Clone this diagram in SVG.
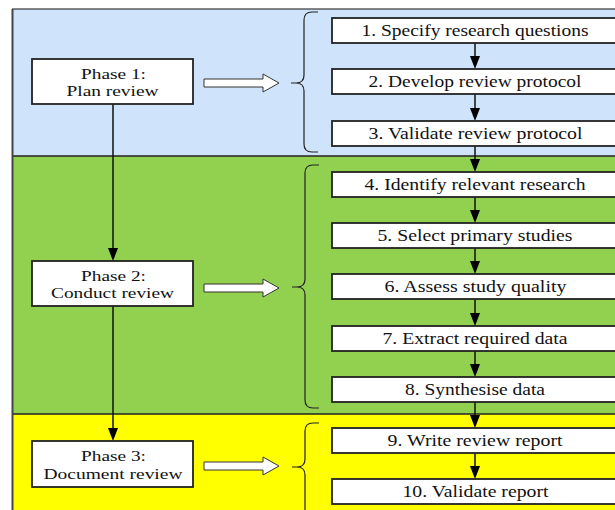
<svg xmlns="http://www.w3.org/2000/svg" width="615" height="510" viewBox="0 0 615 510">
<defs>
<style>
.t{font-family:"Liberation Serif","Times New Roman",serif;font-size:16.5px;fill:#111;text-anchor:middle}
.p{font-family:"Liberation Serif","Times New Roman",serif;font-size:15px;fill:#111;text-anchor:middle}
.box{fill:#fff;stroke:#222;stroke-width:1.8}
.ln{stroke:#111;stroke-width:1.5;fill:none}
.hd{fill:#000}
.brace{fill:none;stroke:#222;stroke-width:1.2}
.blk{fill:#fff;stroke:#333;stroke-width:1}
</style>
</defs>
<rect x="0" y="0" width="615" height="510" fill="#fff"/>
<g id="bands">
<rect x="12" y="9" width="610" height="147" fill="#cfe4fa"/>
<rect x="12" y="156" width="610" height="258" fill="#92d050"/>
<rect x="12" y="414" width="610" height="100" fill="#ffff00"/>
<line x1="12" y1="9" x2="622" y2="9" stroke="#111" stroke-width="1.2"/>
<line x1="12" y1="156" x2="622" y2="156" stroke="#222" stroke-width="1.5"/>
<line x1="12" y1="414" x2="622" y2="414" stroke="#222" stroke-width="1.5"/>
<line x1="12.5" y1="9" x2="12.5" y2="514" stroke="#444" stroke-width="2"/>
</g>
<g id="braces">
<path class="brace" d="M318,12 H312 Q304,12 304,20 V75 Q304,83 296,83 H291 M296,83 Q304,83 304,91 V144 Q304,152 312,152 H318"/>
<path class="brace" d="M319,165 H313 Q305,165 305,173 V279 Q305,287 297,287 H292 M297,287 Q305,287 305,295 V400 Q305,408 313,408 H319"/>
<path class="brace" d="M319,423 H313 Q305,423 305,431 V459 Q305,467 297,467 H292 M297,467 Q305,467 305,475 V520"/>
</g>
<g id="connectors">
<line class="ln" x1="113" y1="104" x2="113" y2="249"/>
<polygon class="hd" points="108,248 118,248 113,261"/>
<line class="ln" x1="113" y1="306" x2="113" y2="429"/>
<polygon class="hd" points="108,428 118,428 113,441"/>
<polygon class="blk" points="204,79 263,79 263,74 279,83 263,92 263,87 204,87"/>
<polygon class="blk" points="204,284 263,284 263,279 279,288 263,297 263,292 204,292"/>
<polygon class="blk" points="204,462 263,462 263,457 279,466 263,475 263,470 204,470"/>
<line class="ln" x1="475" y1="43" x2="475" y2="57"/><polygon class="hd" points="470,56 480,56 475,69"/>
<line class="ln" x1="475" y1="94" x2="475" y2="109"/><polygon class="hd" points="470,108 480,108 475,121"/>
<line class="ln" x1="475" y1="146" x2="475" y2="160"/><polygon class="hd" points="470,159 480,159 475,172"/>
<line class="ln" x1="475" y1="197" x2="475" y2="211"/><polygon class="hd" points="470,210 480,210 475,223"/>
<line class="ln" x1="475" y1="248" x2="475" y2="262"/><polygon class="hd" points="470,261 480,261 475,274"/>
<line class="ln" x1="475" y1="299" x2="475" y2="314"/><polygon class="hd" points="470,313 480,313 475,326"/>
<line class="ln" x1="475" y1="351" x2="475" y2="365"/><polygon class="hd" points="470,364 480,364 475,377"/>
<line class="ln" x1="475" y1="402" x2="475" y2="416"/><polygon class="hd" points="470,415 480,415 475,428"/>
<line class="ln" x1="475" y1="453" x2="475" y2="467"/><polygon class="hd" points="470,466 480,466 475,479"/>
</g>
<g id="phase1"><rect class="box" x="32" y="59" width="161" height="45"/>
<text class="p" x="113.5" y="79" textLength="65" lengthAdjust="spacingAndGlyphs">Phase 1:</text>
<text class="p" x="112.5" y="96" textLength="92" lengthAdjust="spacingAndGlyphs">Plan review</text></g>
<g id="phase2"><rect class="box" x="32" y="261" width="161" height="45"/>
<text class="p" x="113.5" y="281" textLength="65" lengthAdjust="spacingAndGlyphs">Phase 2:</text>
<text class="p" x="112.5" y="298" textLength="123" lengthAdjust="spacingAndGlyphs">Conduct review</text></g>
<g id="phase3"><rect class="box" x="32" y="441" width="161" height="46"/>
<text class="p" x="113.5" y="460.5" textLength="65" lengthAdjust="spacingAndGlyphs">Phase 3:</text>
<text class="p" x="113" y="478.5" textLength="139" lengthAdjust="spacingAndGlyphs">Document review</text></g>
<g id="step1"><rect class="box" x="332" y="18" width="290" height="25"/><text class="t" x="475" y="36" textLength="227" lengthAdjust="spacingAndGlyphs">1. Specify research questions</text></g>
<g id="step2"><rect class="box" x="332" y="69" width="290" height="25"/><text class="t" x="475" y="87" textLength="213" lengthAdjust="spacingAndGlyphs">2. Develop review protocol</text></g>
<g id="step3"><rect class="box" x="332" y="121" width="290" height="25"/><text class="t" x="475.5" y="139" textLength="214" lengthAdjust="spacingAndGlyphs">3. Validate review protocol</text></g>
<g id="step4"><rect class="box" x="332" y="172" width="290" height="25"/><text class="t" x="475" y="190" textLength="221" lengthAdjust="spacingAndGlyphs">4. Identify relevant research</text></g>
<g id="step5"><rect class="box" x="332" y="223" width="290" height="25"/><text class="t" x="475" y="241" textLength="195" lengthAdjust="spacingAndGlyphs">5. Select primary studies</text></g>
<g id="step6"><rect class="box" x="332" y="274" width="290" height="25"/><text class="t" x="475.5" y="292" textLength="182" lengthAdjust="spacingAndGlyphs">6. Assess study quality</text></g>
<g id="step7"><rect class="box" x="332" y="326" width="290" height="25"/><text class="t" x="475" y="344" textLength="185" lengthAdjust="spacingAndGlyphs">7. Extract required data</text></g>
<g id="step8"><rect class="box" x="332" y="377" width="290" height="25"/><text class="t" x="475" y="395" textLength="140" lengthAdjust="spacingAndGlyphs">8. Synthesise data</text></g>
<g id="step9"><rect class="box" x="332" y="428" width="290" height="25"/><text class="t" x="475" y="446" textLength="175" lengthAdjust="spacingAndGlyphs">9. Write review report</text></g>
<g id="step10"><rect class="box" x="332" y="479" width="290" height="25"/><text class="t" x="475.5" y="497" textLength="146" lengthAdjust="spacingAndGlyphs">10. Validate report</text></g>
</svg>
